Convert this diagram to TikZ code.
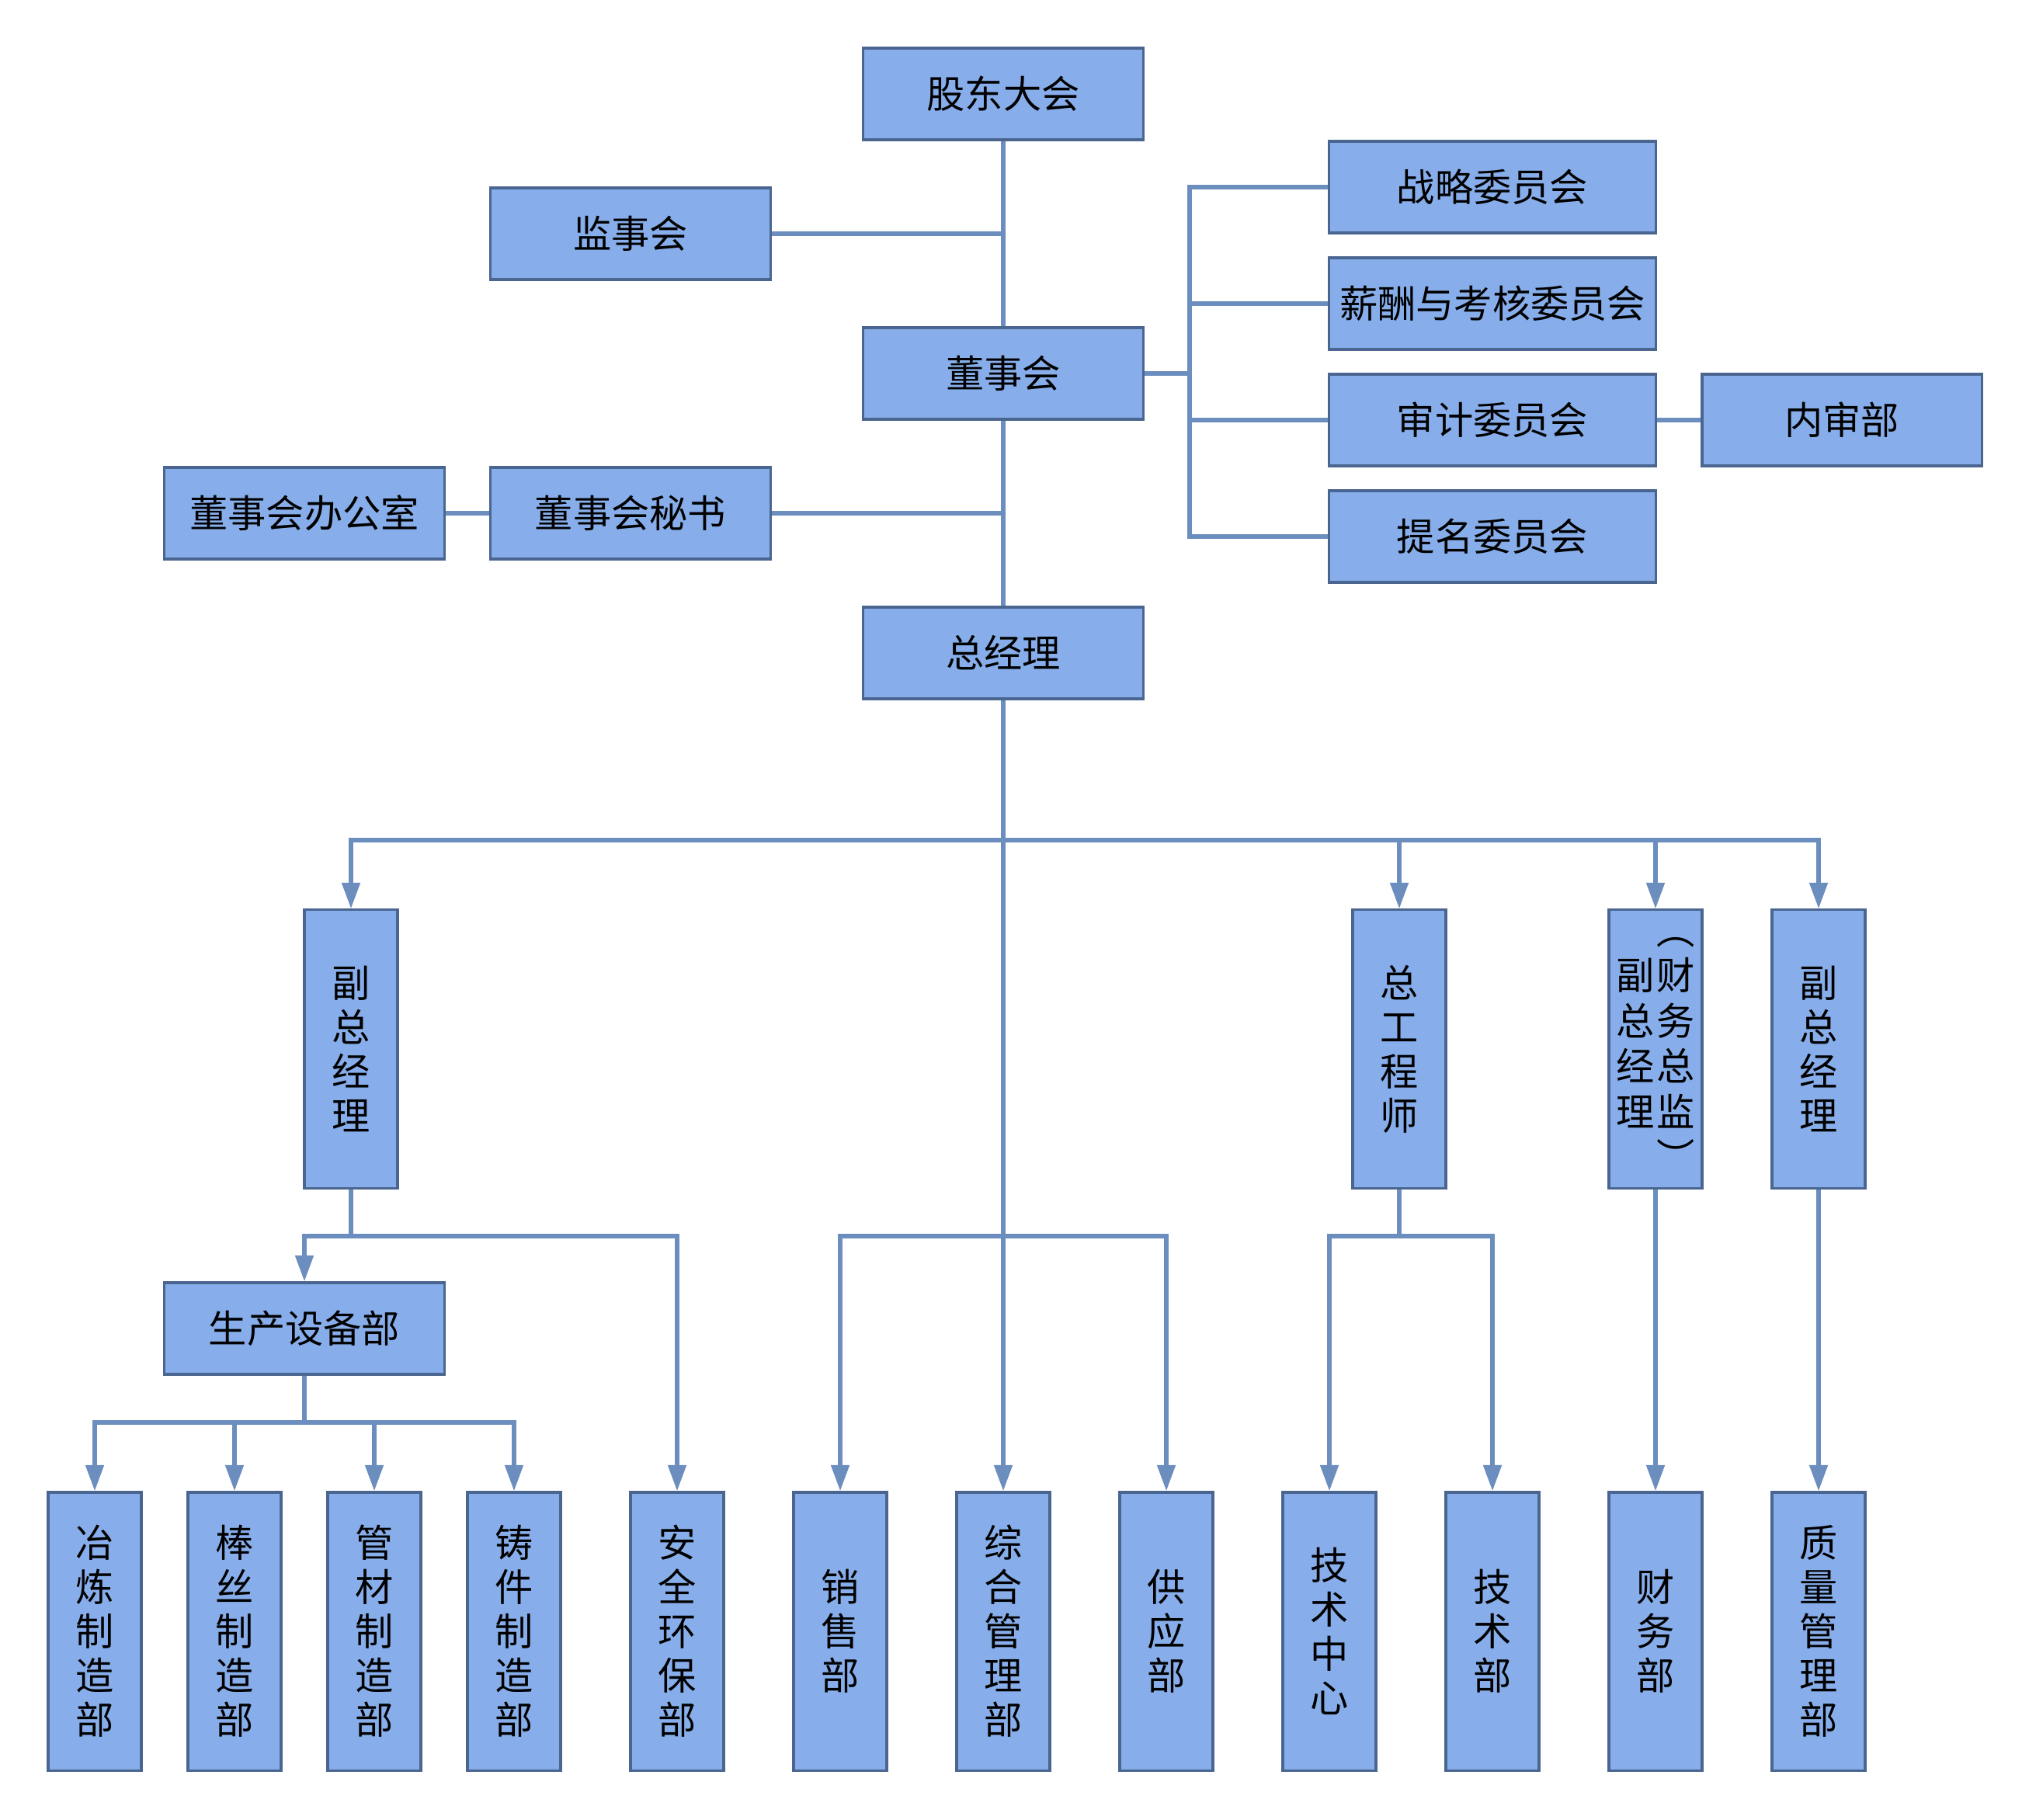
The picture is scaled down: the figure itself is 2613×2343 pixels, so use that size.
\documentclass[tikz,border=0pt]{standalone}
\usepackage{fontspec}
\usetikzlibrary{arrows.meta}
\newfontfamily\cjk{Noto Sans CJK SC}
\definecolor{boxfill}{HTML}{87AEEA}
\definecolor{boxline}{HTML}{4A6690}
\definecolor{linkline}{HTML}{6C8EBF}

\tikzset{
	unit/.style={draw=boxline, fill=boxfill, line width=0.9pt, inner sep=0pt,
		font=\cjk\fontsize{14}{16.2}\selectfont, align=center},
	wide/.style={unit, minimum width=3.6cm, minimum height=1.18cm},
	comm/.style={unit, minimum width=4.2cm, minimum height=1.18cm},
	tall/.style={unit, minimum width=1.2cm, minimum height=3.58cm},
	link/.style={draw=linkline, line width=1.5pt},
	arr/.style={link, -{Triangle[length=9.5pt,width=6.5pt]}},
}

\begin{document}
\begin{tikzpicture}[x=0.01cm, y=-0.01cm]
	\useasboundingbox (0,0) rectangle (2613,2343);
	% top part
	\node[wide] (gd) at (1292,121) {股东大会};
	\node[wide] (js) at (812,301) {监事会};
	\node[wide] (dsh) at (1292,481) {董事会};
	\node[wide] (bgs) at (392,661) {董事会办公室};
	\node[wide] (ms) at (812,661) {董事会秘书};
	\node[wide] (zjl) at (1292,841) {总经理};
	\node[comm] (zl) at (1922,241) {战略委员会};
	\node[comm] (xc) at (1922,391) {薪酬与考核委员会};
	\node[comm] (sj) at (1922,541) {审计委员会};
	\node[comm] (tm) at (1922,691) {提名委员会};
	\node[wide] (ns) at (2372,541) {内审部};
	% second level
	\node[tall] (fz1) at (452,1351) {副\\总\\经\\理};
	\node[tall] (zgc) at (1802,1351) {总\\工\\程\\师};
	\node[tall] (cw) at (2132,1351) {\begin{tabular}{@{}c@{\hspace{1pt}}c@{}}
		&︵\\ 副&财\\ 总&务\\ 经&总\\ 理&监\\ &︶\end{tabular}};
	\node[tall] (fz2) at (2342,1351) {副\\总\\经\\理};
	\node[wide] (sc) at (392,1711) {生产设备部};
	% departments
	\node[tall] (yl) at (122,2101) {冶\\炼\\制\\造\\部};
	\node[tall] (bs) at (302,2101) {棒\\丝\\制\\造\\部};
	\node[tall] (gc) at (482,2101) {管\\材\\制\\造\\部};
	\node[tall] (zj) at (662,2101) {铸\\件\\制\\造\\部};
	\node[tall] (aq) at (872,2101) {安\\全\\环\\保\\部};
	\node[tall] (xs) at (1082,2101) {销\\售\\部};
	\node[tall] (zh) at (1292,2101) {综\\合\\管\\理\\部};
	\node[tall] (gy) at (1502,2101) {供\\应\\部};
	\node[tall] (jszx) at (1712,2101) {技\\术\\中\\心};
	\node[tall] (jsb) at (1922,2101) {技\\术\\部};
	\node[tall] (cwb) at (2132,2101) {财\\务\\部};
	\node[tall] (zlgl) at (2342,2101) {质\\量\\管\\理\\部};

	% connectors, top
	\draw[link] (gd) -- (dsh);
	\draw[link] (js.east) -- (js.east -| gd.south);
	\draw[link] (dsh) -- (zjl);
	\draw[link] (ms.east) -- (ms.east -| dsh.south);
	\draw[link] (bgs) -- (ms);
	\draw[link] (sj) -- (ns);
	\coordinate (brk) at (1532,481);
	\draw[link] (dsh.east) -- (brk);
	\draw[link] (zl.west) -| (brk) |- (tm.west);
	\foreach \n in {xc,sj}
		\draw[link] (\n.west) -- (\n.west -| brk);

	% connectors, general manager
	\draw[arr] (zjl) -- (zh);
	\coordinate (bus) at (1292,1082);
	\foreach \n in {fz1,zgc,cw,fz2}
		\draw[arr] (bus) -| (\n.north);
	\coordinate (zjb) at (1292,1592);
	\draw[arr] (zjb) -| (xs.north);
	\draw[arr] (zjb) -| (gy.north);

	% connectors, lower branches
	\coordinate (fzb) at (452,1592);
	\draw[link] (fz1) -- (fzb);
	\draw[arr] (fzb) -| (sc.north);
	\draw[arr] (fzb) -| (aq.north);
	\coordinate (scb) at (392,1832);
	\draw[link] (sc) -- (scb);
	\foreach \n in {yl,bs,gc,zj}
		\draw[arr] (scb) -| (\n.north);
	\coordinate (zgb) at (1802,1592);
	\draw[link] (zgc) -- (zgb);
	\draw[arr] (zgb) -| (jszx.north);
	\draw[arr] (zgb) -| (jsb.north);
	\draw[arr] (cw) -- (cwb);
	\draw[arr] (fz2) -- (zlgl);
\end{tikzpicture}
\end{document}
